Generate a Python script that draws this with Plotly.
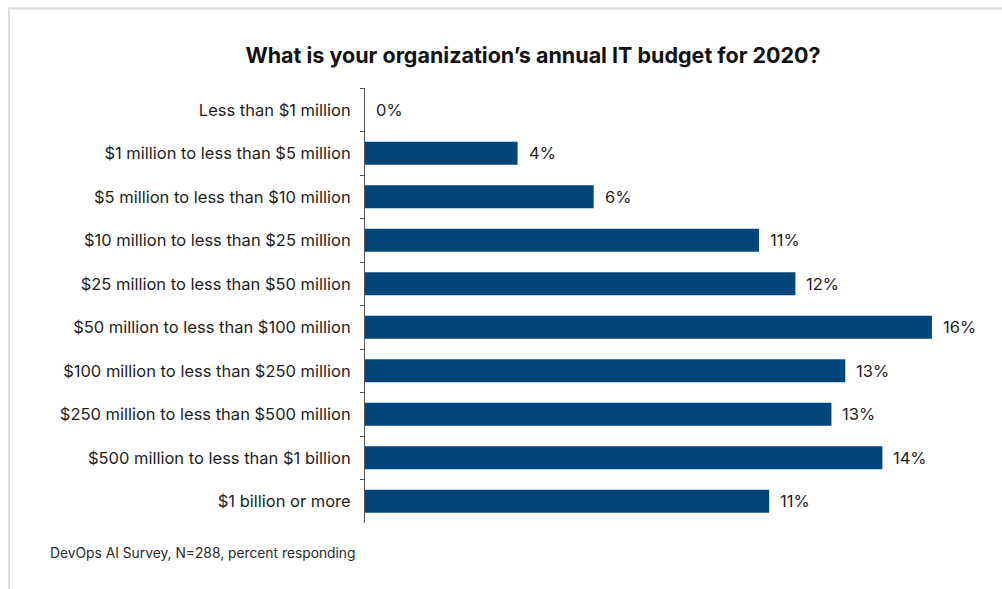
import plotly.graph_objects as go

# Survey answers: annual IT budget bands and share of respondents (percent)
categories = [
    "Less than $1 million",
    "$1 million to less than $5 million",
    "$5 million to less than $10 million",
    "$10 million to less than $25 million",
    "$25 million to less than $50 million",
    "$50 million to less than $100 million",
    "$100 million to less than $250 million",
    "$250 million to less than $500 million",
    "$500 million to less than $1 billion",
    "$1 billion or more",
]
shares = [0.0, 4.19, 6.28, 10.82, 11.82, 15.57, 13.19, 12.81, 14.21, 11.10]

TITLE = "<b>What is your organization\u2019s annual IT budget for 2020?</b>"
SOURCE = "DevOps AI Survey, N=288, percent responding"

W, H = 1002, 589
ML, MR, MT, MB = 365, 18, 88, 66
BAR_COLOR = "#01467b"
TEXT_COLOR = "#1e1e1e"
FONT = "Inter, Roboto, Arial, sans-serif"


def px_x(px):
    """Pixel x -> paper x."""
    return (px - ML) / (W - ML - MR)


def px_y(py):
    """Pixel y (from top) -> paper y."""
    return 1 - (py - MT) / (H - MT - MB)


fig = go.Figure(
    go.Bar(
        x=shares,
        y=categories,
        orientation="h",
        marker=dict(color=BAR_COLOR, line=dict(width=0)),
        width=0.53,
        hoverinfo="skip",
    )
)

# Percentage labels at the end of every bar
for cat, val in zip(categories, shares):
    fig.add_annotation(
        x=val, y=cat, xref="x", yref="y",
        text=f"{round(val)}%",
        showarrow=False, xanchor="left", xshift=9,
        font=dict(family=FONT, size=16.5, color=TEXT_COLOR),
    )

fig.add_annotation(
    x=px_x(48), y=px_y(553), xref="paper", yref="paper",
    text=SOURCE, showarrow=False, xanchor="left", yanchor="middle",
    font=dict(family=FONT, size=13.8, color="#2a2a2a"),
)

# Light frame along the top and left edges
fig.add_shape(
    type="line", xref="paper", yref="paper",
    x0=px_x(9), y0=px_y(H + 2), x1=px_x(9), y1=px_y(8.5),
    line=dict(color="#dcdce2", width=2),
)
fig.add_shape(
    type="line", xref="paper", yref="paper",
    x0=px_x(8), y0=px_y(8.5), x1=px_x(W + 2), y1=px_y(8.5),
    line=dict(color="#dcdce2", width=2),
)

fig.update_layout(
    width=W, height=H,
    margin=dict(l=ML, r=MR, t=MT, b=MB),
    paper_bgcolor="white", plot_bgcolor="white",
    showlegend=False,
    title=dict(
        text=TITLE, x=533 / W, xanchor="center", y=1 - 55 / H, yanchor="middle",
        font=dict(family=FONT, size=21.5, color="#111111"),
    ),
    xaxis=dict(
        range=[0, 17], visible=False, showgrid=False, zeroline=False, fixedrange=True,
    ),
    yaxis=dict(
        autorange="reversed",
        showline=True, linecolor="#555555", linewidth=1,
        ticks="outside", tickson="boundaries", ticklen=4, tickcolor="#555555",
        tickwidth=1,
        tickfont=dict(family=FONT, size=16.5, color=TEXT_COLOR),
        ticklabelstandoff=10,
        showgrid=False, zeroline=False, fixedrange=True,
    ),
)

fig.write_html("out.html")
